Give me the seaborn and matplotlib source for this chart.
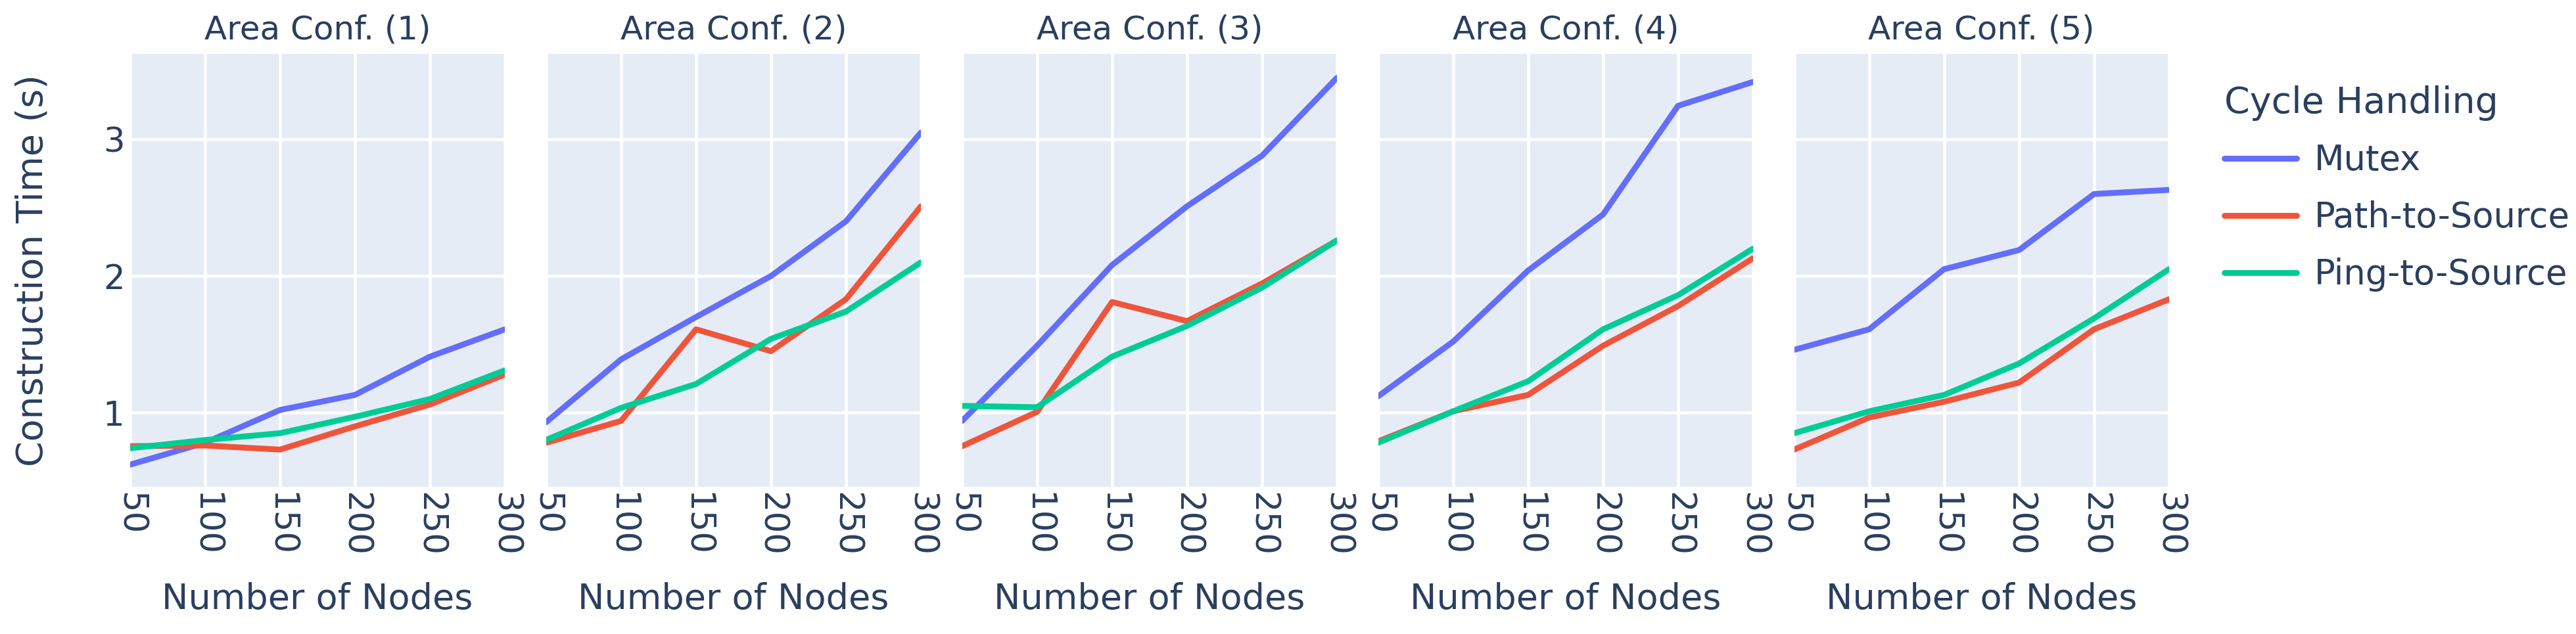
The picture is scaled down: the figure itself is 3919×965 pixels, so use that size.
import numpy as np
import pandas as pd
import seaborn as sns
import matplotlib.pyplot as plt
from matplotlib.lines import Line2D

# Значения
nodes = [50, 100, 150, 200, 250, 300]
areas = ['Area Conf. (1)', 'Area Conf. (2)', 'Area Conf. (3)', 'Area Conf. (4)', 'Area Conf. (5)']
methods = ['Mutex', 'Path-to-Source', 'Ping-to-Source']

mutex = [
    [0.62, 0.78, 1.02, 1.13, 1.41, 1.61],
    [0.93, 1.39, 1.70, 2.00, 2.40, 3.05],
    [0.94, 1.49, 2.08, 2.51, 2.88, 3.45],
    [1.12, 1.52, 2.04, 2.45, 3.245, 3.42],
    [1.46, 1.61, 2.05, 2.19, 2.60, 2.63],
]
path_to_source = [
    [0.755, 0.76, 0.73, 0.90, 1.06, 1.28],
    [0.78, 0.94, 1.61, 1.45, 1.83, 2.51],
    [0.755, 1.006, 1.81, 1.67, 1.945, 2.26],
    [0.79, 1.01, 1.13, 1.49, 1.78, 2.13],
    [0.73, 0.965, 1.08, 1.22, 1.61, 1.83],
]
ping_to_source = [
    [0.74, 0.80, 0.85, 0.97, 1.10, 1.31],
    [0.80, 1.035, 1.21, 1.54, 1.74, 2.10],
    [1.05, 1.04, 1.41, 1.635, 1.915, 2.26],
    [0.78, 1.01, 1.23, 1.61, 1.86, 2.20],
    [0.85, 1.01, 1.13, 1.36, 1.69, 2.05],
]

rows = []
for method, values in zip(methods, [mutex, path_to_source, ping_to_source]):
    for area, series in zip(areas, values):
        for n, t in zip(nodes, series):
            rows.append({'area': area, 'method': method, 'nodes': n, 'time': t})
df = pd.DataFrame(rows)

palette = {'Mutex': '#636EFA', 'Path-to-Source': '#EF553B', 'Ping-to-Source': '#00CC96'}
text_color = '#2a3f5f'

sns.set_theme(style='darkgrid', rc={'axes.facecolor': '#E5ECF6', 'grid.color': 'white'})
plt.rcParams['font.family'] = ['DejaVu Sans']

fig, axes = plt.subplots(1, 5, figsize=(39.19, 9.65), dpi=100, sharey=True)
fig.subplots_adjust(left=0.0505, right=0.842, top=0.915, bottom=0.232, wspace=0.11)

for i, (ax, area) in enumerate(zip(axes, areas)):
    sub = df[df['area'] == area]
    sns.lineplot(data=sub, x='nodes', y='time', hue='method', palette=palette,
                 linewidth=6.4, legend=False, ax=ax)
    ax.set_xlim(50, 300)
    ax.set_ylim(0.457, 3.625)
    ax.set_xticks(nodes)
    ax.set_yticks([1, 2, 3])
    ax.grid(True, color='white', linewidth=3.3)
    ax.tick_params(axis='both', length=0, labelsize=37, labelcolor=text_color, pad=6)
    ax.tick_params(axis='x', labelrotation=-90)
    for s in ax.spines.values():
        s.set_visible(False)
    ax.set_title(area, fontsize=36, color=text_color, pad=16)
    ax.set_xlabel('Number of Nodes', fontsize=39, color=text_color)
    ax.xaxis.set_label_coords(0.5, -0.259)
    ax.xaxis.label.set_va('center')
    if i == 0:
        ax.set_ylabel('Construction Time (s)', fontsize=40, color=text_color)
        ax.yaxis.set_label_coords(-0.26, 0.5)
        ax.yaxis.label.set_va('center')
    else:
        ax.set_ylabel('')

handles = [Line2D([0], [0], color=palette[m], linewidth=6.4) for m in methods]
leg = fig.legend(handles, methods, title='Cycle Handling', loc='upper left',
                 bbox_to_anchor=(3336 / 3919, 1 - 82 / 965), frameon=False,
                 fontsize=38, title_fontsize=40, alignment='left',
                 handlelength=2.1, handletextpad=0.5, labelspacing=0.66)
for t in leg.get_texts():
    t.set_color(text_color)
leg.get_title().set_color(text_color)

fig.savefig('out.png', dpi=100, facecolor='white')
